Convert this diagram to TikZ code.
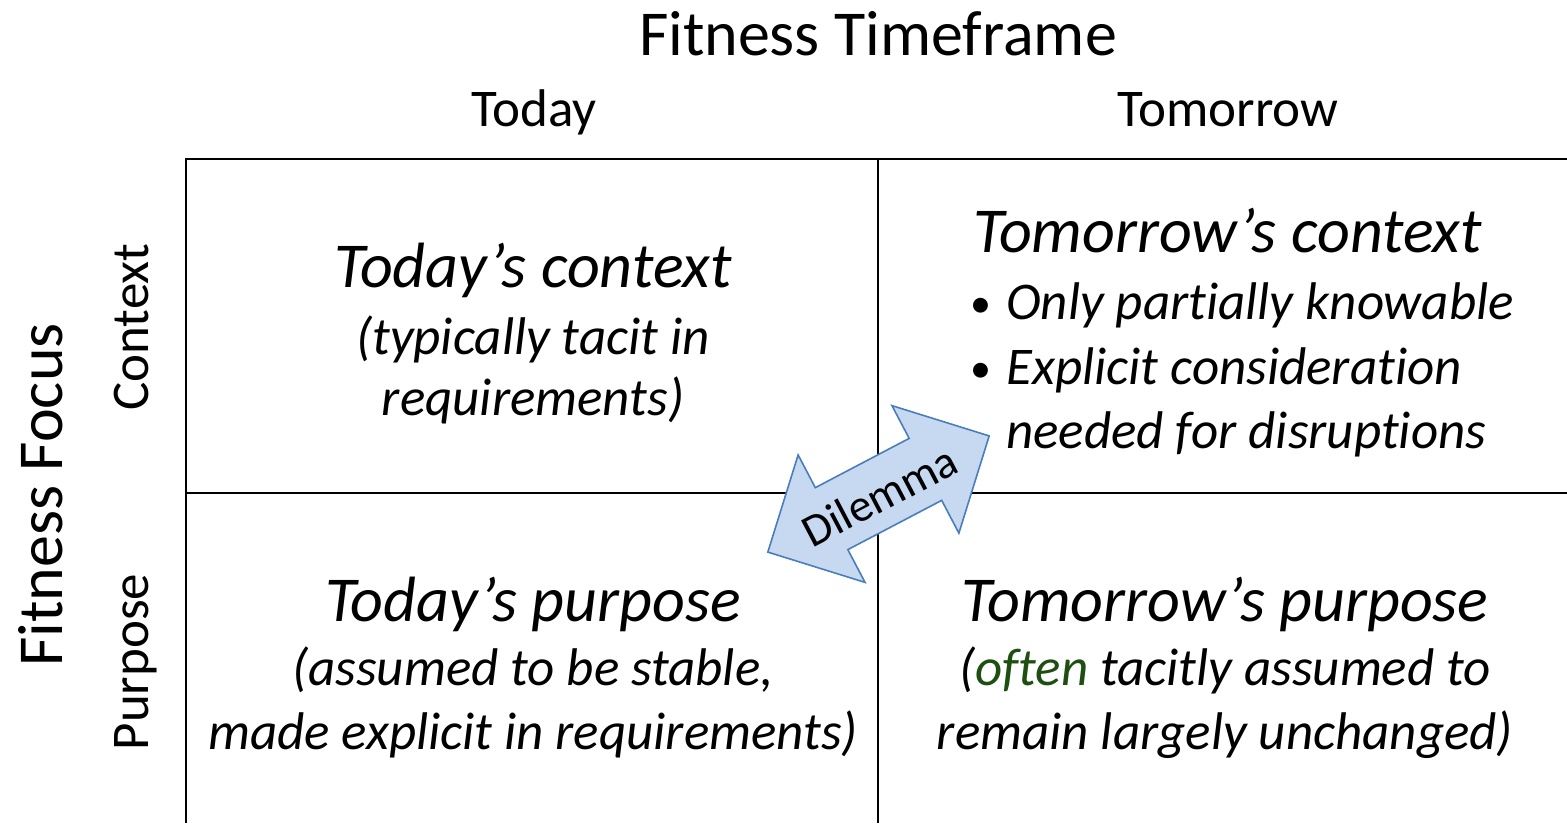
\documentclass[tikz,border=0pt]{standalone}
\usepackage{fontspec}
\setmainfont{Carlito}[Ligatures=NoCommon]
\usetikzlibrary{positioning}
\definecolor{arrowfill}{RGB}{198,217,240}
\definecolor{arrowline}{RGB}{74,126,187}
\definecolor{oftengreen}{RGB}{30,78,18}
\tikzset{
  gridline/.style={line width=2.6pt, black},
  titletxt/.style={inner sep=0pt, anchor=base, font=\fontsize{64}{70}\selectfont},
  headtxt/.style={inner sep=0pt, anchor=base, font=\fontsize{53}{60}\selectfont},
  cellhead/.style={inner sep=0pt, anchor=base, font=\fontsize{64}{70}\selectfont\itshape},
  celltxt/.style={inner sep=0pt, anchor=base, font=\fontsize{53}{60}\selectfont\itshape},
  bullettxt/.style={inner sep=0pt, anchor=base west, font=\fontsize{53}{60}\selectfont\itshape},
  bulletdot/.style={inner sep=0pt, anchor=base, font=\fontsize{42}{50}\selectfont},
  dilarrow/.style={fill=arrowfill, draw=arrowline, line width=1.6pt, line join=miter},
  diltxt/.style={inner sep=0pt, font=\fontsize{46}{52}\selectfont}
}
\begin{document}
\begin{tikzpicture}[x=1pt, y=-1pt]
\useasboundingbox (0,0) rectangle (1567,823);
% grid
\coordinate (tl) at (186,159);
\coordinate (tr) at (1567,159);
\coordinate (ml) at (186,493);
\coordinate (mr) at (1567,493);
\coordinate (tm) at (878,159);
\coordinate (bm) at (878,823);
\coordinate (bl) at (186,823);
\draw[gridline] (tr) -- (tl) -- (bl);
\draw[gridline] (tm) -- (bm);
\draw[gridline] (ml) -- (mr);
% titles
\node[titletxt] (ftime) at (878,55) {Fitness Timeframe};
\node[headtxt] (today) at (534,126) {Today};
\node[headtxt] (tomorrow) at (1228,126) {Tomorrow};
\node[titletxt, rotate=90] (ffocus) at (62,495) {Fitness Focus};
\node[headtxt, rotate=90] (context) at (148,327) {Context};
\node[headtxt, rotate=90] (purpose) at (148,662) {Purpose};
% today's context
\node[cellhead] (tc1) at (533,287) {Today’s context};
\node[celltxt] (tc2) at (533,354) {(typically tacit in};
\node[celltxt] (tc3) at (533,415) {requirements)};
% tomorrow's context
\node[cellhead, anchor=base west] (mc1) at (973,252) {Tomorrow’s context};
\node[bulletdot] (b1) at (981,317) {•};
\node[bullettxt] (mc2) at (1006,319) {Only partially knowable};
\node[bulletdot] (b2) at (981,382) {•};
\node[bullettxt] (mc3) at (1006,384) {Explicit consideration};
\node[bullettxt] (mc4) at (1006,448) {needed for disruptions};
% today's purpose
\node[cellhead] (tp1) at (533,621) {Today’s purpose};
\node[celltxt] (tp2) at (533,685) {(assumed to be stable,};
\node[celltxt] (tp3) at (533,749) {made explicit in requirements)};
% tomorrow's purpose
\node[cellhead] (mp1) at (1225,621) {Tomorrow’s purpose};
\node[celltxt] (mp2) at (1225,685) {(\textcolor{oftengreen}{often} tacitly assumed to};
\node[celltxt] (mp3) at (1225,749) {remain largely unchanged)};
% dilemma arrow
\begin{scope}[shift={(878.5,494)}, x={(0.8854pt,0.4647pt)}, y={(0.4647pt,-0.8854pt)}]
\draw[dilarrow] (125,0) -- (53,72) -- (53,35) -- (-53,35) -- (-53,72) -- (-125,0)
  -- (-53,-72) -- (-53,-35) -- (53,-35) -- (53,-72) -- cycle;
\node[diltxt, rotate=27.7] (dil) at (0,2) {Dilemma};
\end{scope}
\end{tikzpicture}
\end{document}
